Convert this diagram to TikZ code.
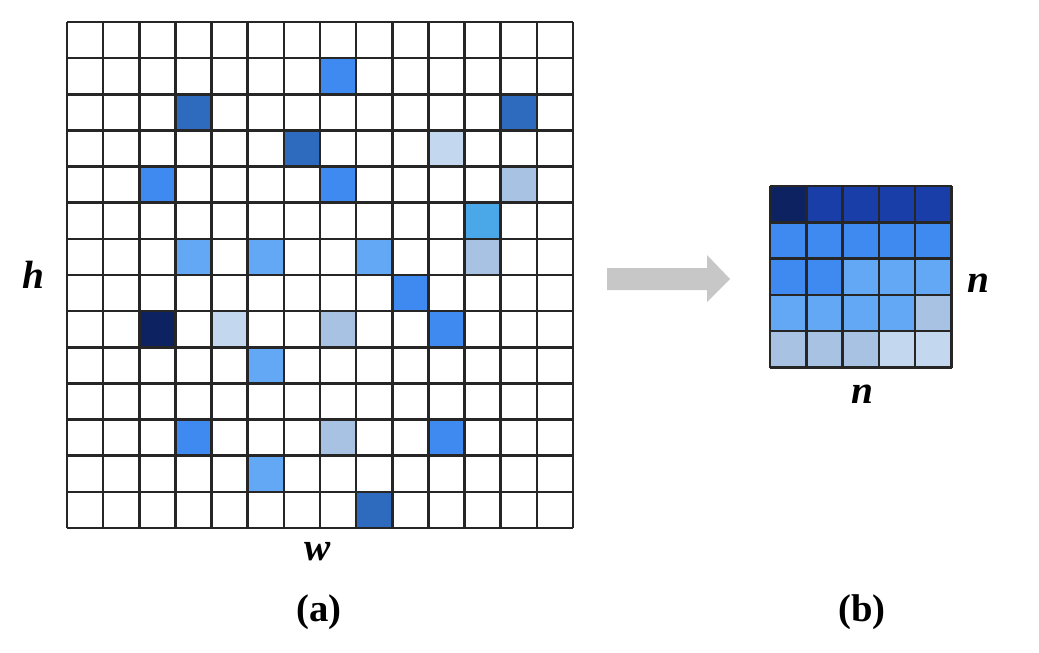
\documentclass[tikz,border=0pt]{standalone}
\usepackage{fontspec}
\setmainfont{Liberation Serif}
\usepackage{xcolor}
\usepackage{tikz}

\definecolor{navy}{HTML}{0D2260}
\definecolor{royal}{HTML}{1A3EA8}
\definecolor{dblue}{HTML}{2E6BBF}
\definecolor{mblue}{HTML}{3F8AF0}
\definecolor{lblue}{HTML}{62A8F4}
\definecolor{cyanb}{HTML}{4AA8E8}
\definecolor{pale}{HTML}{A7C2E2}
\definecolor{vpale}{HTML}{C3D7EE}

\tikzset{
    axislabel/.style={font=\fontsize{28}{30}\selectfont\bfseries\itshape, anchor=base, inner sep=0pt},
    caption/.style={font=\fontsize{27.5}{30}\selectfont\bfseries, anchor=base, inner sep=0pt},
    gridline/.style={black!85, line width=1.8pt}
}

\begin{document}
\begin{tikzpicture}[x=0.025cm, y=-0.025cm]
    \useasboundingbox (0,0) rectangle (1039,652);
    \def\cs{36.14}
    \def\rs{36.3}

    % sparse h x w map
    \foreach \c/\r/\col in {7/1/mblue, 3/2/dblue, 12/2/dblue, 6/3/dblue, 10/3/vpale,
        2/4/mblue, 7/4/mblue, 12/4/pale, 11/5/cyanb, 3/6/lblue, 5/6/lblue, 8/6/lblue,
        11/6/pale, 9/7/mblue, 2/8/navy, 4/8/vpale, 7/8/pale, 10/8/mblue, 5/9/lblue,
        3/11/mblue, 7/11/pale, 10/11/mblue, 5/12/lblue, 8/13/dblue}
        \fill[\col] ({67+\c*\cs},{22+\r*\cs}) rectangle ++(\cs,\cs);
    \foreach \i in {0,...,14} {
        \draw[gridline] ({67+\i*\cs},22) -- ({67+\i*\cs},{22+14*\cs});
        \draw[gridline] (67,{22+\i*\cs}) -- ({67+14*\cs},{22+\i*\cs});
    }

    % dense n x n map
    \foreach \row [count=\r from 0] in {{navy,royal,royal,royal,royal},
        {mblue,mblue,mblue,mblue,mblue},
        {mblue,mblue,lblue,lblue,lblue},
        {lblue,lblue,lblue,lblue,pale},
        {pale,pale,pale,vpale,vpale}}
        \foreach \col [count=\c from 0] in \row
            \fill[\col] ({770+\c*\rs},{186+\r*\rs}) rectangle ++(\rs,\rs);
    \foreach \i in {0,...,5} {
        \draw[gridline] ({770+\i*\rs},186) -- ({770+\i*\rs},{186+5*\rs});
        \draw[gridline] (770,{186+\i*\rs}) -- ({770+5*\rs},{186+\i*\rs});
    }

    % arrow
    \fill[black!22] (607,268) -- (707,268) -- (707,255) -- (730,279)
        -- (707,302) -- (707,290) -- (607,290) -- cycle;

    \node[axislabel] (h) at (33,288) {h};
    \node[axislabel] (w) at (318,560) {w};
    \node[axislabel] (nr) at (978,292) {n};
    \node[axislabel] (nb) at (862,403) {n};
    \node[caption] (a) at (319,621) {(a)};
    \node[caption] (b) at (862,621) {(b)};
\end{tikzpicture}
\end{document}
